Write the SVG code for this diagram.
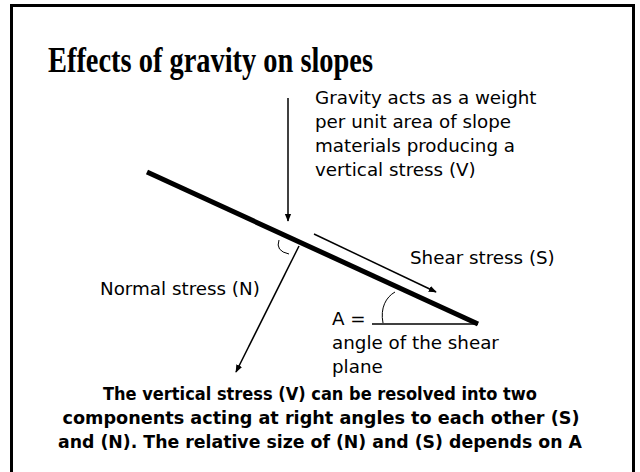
<svg xmlns="http://www.w3.org/2000/svg" width="640" height="472" viewBox="0 0 640 472">
<style>
.t{font-family:"DejaVu Sans","Liberation Sans",sans-serif;font-size:18.3px;fill:#000}
.b{font-family:"DejaVu Sans","Liberation Sans",sans-serif;font-size:18.5px;font-weight:bold;fill:#000}
.ttl{font-family:"Liberation Serif","Times New Roman",serif;font-size:35px;font-weight:bold;fill:#000}
.ln{stroke:#000;fill:none}
</style>
<defs>
<marker id="ah" viewBox="0 0 10 10" refX="9" refY="5" markerWidth="8" markerHeight="8" markerUnits="userSpaceOnUse" orient="auto">
<path d="M0,1 L10,5 L0,9 z" fill="#000"/>
</marker>
</defs>
<rect x="0" y="0" width="640" height="472" fill="#fff"/>
<rect x="11.5" y="5.5" width="622" height="475" fill="none" stroke="#000" stroke-width="3"/>
<g id="title"><text class="ttl" x="48" y="72" textLength="325" lengthAdjust="spacingAndGlyphs">Effects of gravity on slopes</text></g>
<g id="slope"><line class="ln" x1="147" y1="172" x2="478" y2="324" stroke-width="5"/></g>
<g id="base"><line class="ln" x1="372" y1="324" x2="478" y2="324" stroke-width="1.5"/></g>
<g id="connectors">
<line class="ln" x1="288" y1="98" x2="288" y2="221" stroke-width="1.5" marker-end="url(#ah)"/>
<line class="ln" x1="314" y1="234" x2="436" y2="292" stroke-width="1.5" marker-end="url(#ah)"/>
<line class="ln" x1="299" y1="246" x2="236" y2="372" stroke-width="1.5" marker-end="url(#ah)"/>
<path class="ln" d="M279,240 Q275,251 289,254" stroke-width="1"/>
<path class="ln" d="M383,323 C380,308 386,297 395,292" stroke-width="1"/>
</g>
<g id="gravity-label">
<text class="t" x="315" y="104">Gravity acts as a weight</text>
<text class="t" x="315" y="128">per unit area of slope</text>
<text class="t" x="315" y="152">materials producing a</text>
<text class="t" x="315" y="176">vertical stress (V)</text>
</g>
<g id="shear-label"><text class="t" x="410" y="264">Shear stress (S)</text></g>
<g id="normal-label"><text class="t" x="100" y="295">Normal stress (N)</text></g>
<g id="angle-label">
<text class="t" x="332" y="325">A =</text>
<text class="t" x="332" y="349">angle of the shear</text>
<text class="t" x="332" y="373">plane</text>
</g>
<g id="caption">
<text class="b" x="320" y="400" text-anchor="middle" textLength="434" lengthAdjust="spacingAndGlyphs">The vertical stress (V) can be resolved into two</text>
<text class="b" x="321" y="424" text-anchor="middle" textLength="517" lengthAdjust="spacingAndGlyphs">components acting at right angles to each other (S)</text>
<text class="b" x="320" y="448" text-anchor="middle" textLength="524" lengthAdjust="spacingAndGlyphs">and (N). The relative size of (N) and (S) depends on A</text>
</g>
</svg>
